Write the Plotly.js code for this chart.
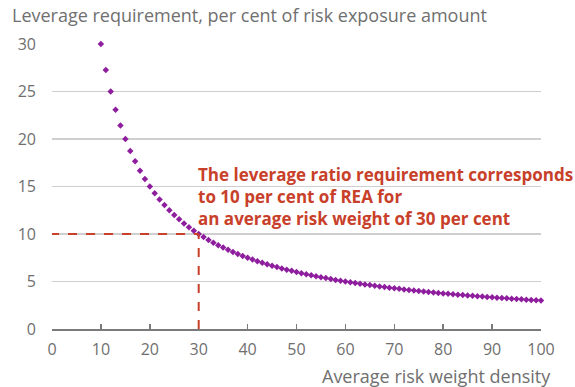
<!DOCTYPE html>
<html>
<head>
<meta charset="utf-8">
<script src="https://cdn.plot.ly/plotly-3.0.1.min.js"></script>
<style>html,body{margin:0;padding:0;background:#fff;}#chart{width:575px;height:387px;}</style>
</head>
<body>
<div id="chart"></div>
<script>
const riskWeight = [10,11,12,13,14,15,16,17,18,19,20,21,22,23,24,25,26,27,28,29,30,31,32,33,34,35,36,37,38,39,40,41,42,43,44,45,46,47,48,49,50,51,52,53,54,55,56,57,58,59,60,61,62,63,64,65,66,67,68,69,70,71,72,73,74,75,76,77,78,79,80,81,82,83,84,85,86,87,88,89,90,91,92,93,94,95,96,97,98,99,100];
const leverageReq = [30,27.27,25,23.08,21.43,20,18.75,17.65,16.67,15.79,15,14.29,13.64,13.04,12.5,12,11.54,11.11,10.71,10.34,10,9.68,9.38,9.09,8.82,8.57,8.33,8.11,7.89,7.69,7.5,7.32,7.14,6.98,6.82,6.67,6.52,6.38,6.25,6.12,6,5.88,5.77,5.66,5.56,5.45,5.36,5.26,5.17,5.08,5,4.92,4.84,4.76,4.69,4.62,4.55,4.48,4.41,4.35,4.29,4.23,4.17,4.11,4.05,4,3.95,3.90,3.85,3.80,3.75,3.70,3.66,3.61,3.57,3.53,3.49,3.45,3.41,3.37,3.33,3.30,3.26,3.23,3.19,3.16,3.13,3.09,3.06,3.03,3];
const refPoint = {x: 30, y: 10};
const xTicks = [0,10,20,30,40,50,60,70,80,90,100];
const yTicks = [0,5,10,15,20,25,30];
const annotationText = "The leverage ratio requirement corresponds<br>to 10 per cent of REA for<br>an average risk weight of 30 per cent";
const yTitle = "Leverage requirement, per cent of risk exposure amount";
const xTitle = "Average risk weight density";

const red = "#C8402A";
const gray = "#6f6f6f";
const fontFam = "Open Sans, sans-serif";

const trace = {
  x: riskWeight, y: leverageReq, type: "scatter", mode: "markers",
  cliponaxis: false,
  marker: {symbol: "diamond", size: 5, color: "#8E1E9E"},
  hoverinfo: "skip"
};

const layout = {
  width: 575, height: 387,
  margin: {l: 52, r: 34, t: 44, b: 58},
  paper_bgcolor: "#fff", plot_bgcolor: "#fff",
  showlegend: false,
  font: {family: fontFam, color: gray, size: 16},
  xaxis: {
    range: [0, 100], tickvals: xTicks, ticktext: xTicks.map(String),
    showgrid: false, zeroline: false, showline: true, linecolor: "#7a7a7a", linewidth: 2,
    ticks: "inside", ticklen: 5, tickcolor: "#7a7a7a", tickwidth: 1.5,
    ticklabelstandoff: 5,
    tickfont: {family: fontFam, color: gray, size: 16}
  },
  yaxis: {
    range: [0, 30], tickvals: yTicks, ticktext: yTicks.map(String),
    showgrid: true, gridcolor: "#cfcfcf", gridwidth: 1.5, zeroline: false, showline: false,
    ticks: "", ticklabelstandoff: 15,
    tickfont: {family: fontFam, color: gray, size: 16}
  },
  shapes: [
    {type: "line", xref: "x", yref: "y", x0: -0.4, x1: refPoint.x, y0: refPoint.y, y1: refPoint.y,
     line: {color: red, width: 2, dash: "dash"}},
    {type: "line", xref: "x", yref: "y", x0: refPoint.x, x1: refPoint.x, y0: 0, y1: refPoint.y,
     line: {color: red, width: 2, dash: "dash"}}
  ],
  annotations: [
    {text: annotationText, xref: "x", yref: "y", x: refPoint.x, y: 17.7, xanchor: "left", yanchor: "top",
     showarrow: false, align: "left", xshift: -3,
     font: {family: fontFam, color: red, size: 17, weight: "bold"}},
    {text: yTitle, xref: "paper", yref: "paper", x: 0, y: 1, xshift: -42, yshift: 29, xanchor: "left", yanchor: "middle",
     showarrow: false, font: {family: fontFam, color: gray, size: 18}},
    {text: xTitle, xref: "paper", yref: "paper", x: 1, y: 0, xshift: 12, yshift: -47, xanchor: "right", yanchor: "middle",
     showarrow: false, font: {family: fontFam, color: gray, size: 18}}
  ]
};

Plotly.newPlot("chart", [trace], layout, {displayModeBar: false, staticPlot: true});
</script>
</body>
</html>
